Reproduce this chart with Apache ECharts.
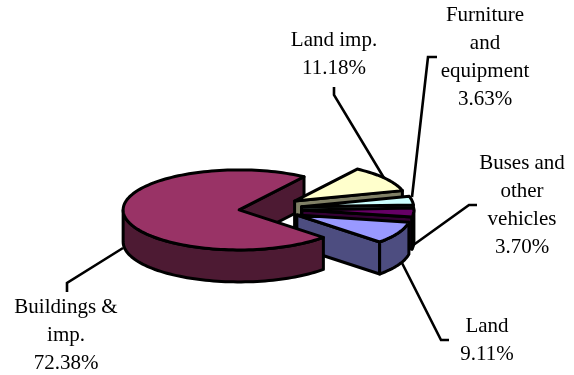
<!DOCTYPE html>
<html>
<head>
<meta charset="utf-8">
<style>html,body{margin:0;padding:0;background:#fff}#c{width:574px;height:375px}</style>
<script src="https://cdn.jsdelivr.net/npm/echarts@6/dist/echarts.min.js"></script>
</head>
<body>
<div id="c"></div>
<script>
// Data, clockwise from the top of the pie
const categories = ['Land imp.', 'Furniture\nand\nequipment', 'Buses and\nother\nvehicles', 'Land', 'Buildings &\nimp.'];
const shares = [11.18, 3.63, 3.70, 9.11, 72.38];

// Styles and layout
const topColors = ['#FFFFCC', '#CCFFFF', '#660066', '#9999FF', '#993366'];
const wallColors = ['#808066', '#668080', '#330033', '#4D4D80', '#4D1A33'];
const explode = [39, 39, 39, 38, 24];
const radius = [112, 112, 112, 114, 116];
const center = [263, 209];
const tilt = 0.345, depth = 32, startAngle = 56;
const labelCenters = [[334, 54], [485, 57], [522, 205], [487, 340], [66, 335]];
const leaders = [
  [[334, 87], [334, 95], [384, 178]],
  [[437, 57], [428, 57], [412, 197]],
  [[477, 205], [469, 205], [412, 246]],
  [[449, 340], [441, 340], [402, 263]],
  [[67, 292], [67, 283], [123, 248]]
];

// Sector angles from the values (clockwise)
const total = shares.reduce((a, b) => a + b, 0);
const sectors = [];
let cursor = startAngle;
shares.forEach(v => {
  const sweep = v / total * 360;
  sectors.push({ from: cursor - sweep, to: cursor });
  cursor -= sweep;
});
const rad = d => d * Math.PI / 180;

function geometry(i) {
  const s = sectors[i], mid = rad((s.from + s.to) / 2), e = explode[i];
  const cx = center[0] + e * Math.cos(mid), cy = center[1] - e * Math.sin(mid) * tilt;
  const r = radius[i];
  const at = (deg, dz) => [cx + r * Math.cos(rad(deg)), cy - r * tilt * Math.sin(rad(deg)) + (dz || 0)];
  return { s, cx, cy, at };
}
function arc(g, a, b, dz) {
  const pts = [], n = Math.max(2, Math.ceil(Math.abs(b - a) / 2));
  for (let k = 0; k <= n; k++) pts.push(g.at(a + (b - a) * k / n, dz));
  return pts;
}
function poly(points, fill) {
  return { type: 'polygon', shape: { points }, style: { fill, stroke: '#000', lineWidth: 3, lineJoin: 'round' } };
}
function sideWalls(i) {
  const g = geometry(i), out = [], apex = [g.cx, g.cy], low = [g.cx, g.cy + depth];
  [[g.s.from, 1], [g.s.to, -1]].forEach(([a, sign]) => {
    if (Math.cos(rad(a)) * sign > 0) out.push(poly([apex, g.at(a), g.at(a, depth), low], wallColors[i]));
  });
  return out;
}
function outerAndTop(i) {
  const g = geometry(i), out = [];
  // the front half of the rim faces the viewer
  [[-180, 0], [180, 360]].forEach(([lo, hi]) => {
    const a = Math.max(g.s.from, lo), b = Math.min(g.s.to, hi);
    if (b > a) out.push(poly(arc(g, a, b, 0).concat(arc(g, b, a, depth)), wallColors[i]));
  });
  out.push(poly([[g.cx, g.cy]].concat(arc(g, g.s.from, g.s.to, 0)), topColors[i]));
  return out;
}

// Paint order, back to front: [slice, part]
const order = [[4, 'side'], [0, 'all'], [1, 'all'], [2, 'all'], [3, 'all'], [4, 'front']];

const option = {
  animation: false,
  backgroundColor: '#fff',
  series: [
    {
      type: 'custom', coordinateSystem: 'none', silent: true, z: 2,
      data: order.map((o, k) => [shares[o[0]], o[0], k]),
      renderItem(params, api) {
        const [i, part] = order[api.value(2)];
        let children = [];
        if (part !== 'front') children = children.concat(sideWalls(i));
        if (part !== 'side') children = children.concat(outerAndTop(i));
        return { type: 'group', children };
      }
    },
    {
      type: 'custom', coordinateSystem: 'none', silent: true, z: 3,
      data: shares.map((v, i) => [v, i]),
      renderItem(params, api) {
        const i = api.value(1), v = api.value(0);
        return {
          type: 'group',
          children: [
            { type: 'polyline', shape: { points: leaders[i] }, style: { fill: 'none', stroke: '#000', lineWidth: 2.6 } },
            { type: 'text', x: labelCenters[i][0], y: labelCenters[i][1],
              style: {
                text: categories[i] + '\n' + v.toFixed(2) + '%',
                font: '21px "Liberation Serif", "Times New Roman", serif',
                lineHeight: 28, fill: '#000', align: 'center', verticalAlign: 'middle'
              } }
          ]
        };
      }
    }
  ]
};
echarts.init(document.getElementById('c'), null, { renderer: 'canvas' }).setOption(option);
</script>
</body>
</html>
